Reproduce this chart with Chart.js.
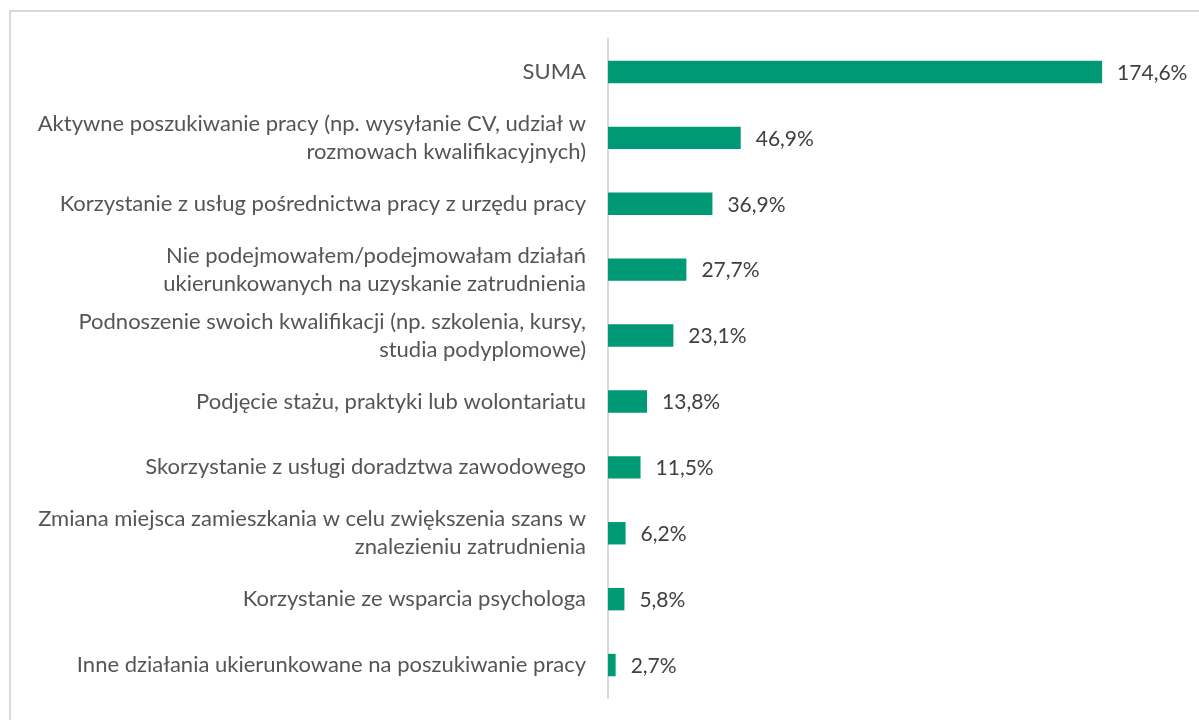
<!DOCTYPE html>
<html>
<head>
<meta charset="utf-8">
<script src="https://cdn.jsdelivr.net/npm/chart.js@4"></script>
<style>
  body { margin: 0; background: #fff; overflow: hidden; }
  .frame { position: absolute; left: 9px; top: 10px; width: 1300px; height: 800px; border: 2px solid #d9d9d9; }
  .wrap { position: absolute; left: 0; top: 0; width: 1199px; height: 720px; }
</style>
</head>
<body>
<div class="frame"></div>
<div class="wrap"><canvas id="actionsChart"></canvas></div>
<script>
const categories = [
    'SUMA',
    ['Aktywne poszukiwanie pracy (np. wysyłanie CV, udział w', 'rozmowach kwalifikacyjnych)'],
    'Korzystanie z usług pośrednictwa pracy z urzędu pracy',
    ['Nie podejmowałem/podejmowałam działań', 'ukierunkowanych na uzyskanie zatrudnienia'],
    ['Podnoszenie swoich kwalifikacji (np. szkolenia, kursy,', 'studia podyplomowe)'],
    'Podjęcie stażu, praktyki lub wolontariatu',
    'Skorzystanie z usługi doradztwa zawodowego',
    ['Zmiana miejsca zamieszkania w celu zwiększenia szans w', 'znalezieniu zatrudnienia'],
    'Korzystanie ze wsparcia psychologa',
    'Inne działania ukierunkowane na poszukiwanie pracy'
];
const percentValues = [174.6, 46.9, 36.9, 27.7, 23.1, 13.8, 11.5, 6.2, 5.8, 2.7];

const valueLabels = {
    id: 'valueLabels',
    afterDatasetsDraw(chart) {
        const ctx = chart.ctx;
        const meta = chart.getDatasetMeta(0);
        ctx.save();
        ctx.font = '21px Lato';
        ctx.fillStyle = '#404040';
        ctx.textBaseline = 'middle';
        meta.data.forEach((bar, i) => {
            const txt = percentValues[i].toFixed(1).replace('.', ',') + '%';
            ctx.fillText(txt, bar.x + 15, bar.y + 1);
        });
        ctx.restore();
    }
};

const ctxActions = document.getElementById('actionsChart').getContext('2d');
new Chart(ctxActions, {
    type: 'bar',
    data: {
        labels: categories,
        datasets: [{
            data: percentValues,
            backgroundColor: '#009975',
            categoryPercentage: 1,
            barPercentage: 0.34
        }]
    },
    options: {
        indexAxis: 'y',
        responsive: true,
        maintainAspectRatio: false,
        animation: false,
        layout: { padding: { top: 39, bottom: 22, right: 25, left: 0 } },
        plugins: { legend: { display: false }, tooltip: { enabled: false } },
        scales: {
            x: { display: false, min: 0, max: 200 },
            y: {
                grid: { display: false, drawTicks: false },
                border: { display: true, color: '#d9d9d9', width: 2 },
                ticks: {
                    color: '#555555',
                    padding: 22,
                    font: { family: 'Lato', size: 22, lineHeight: 1.28 }
                },
                afterFit(scale) {
                    scale.width = 608;
                    scale.paddingTop = 0;
                    scale.paddingBottom = 0;
                }
            }
        }
    },
    plugins: [valueLabels]
});
</script>
</body>
</html>
